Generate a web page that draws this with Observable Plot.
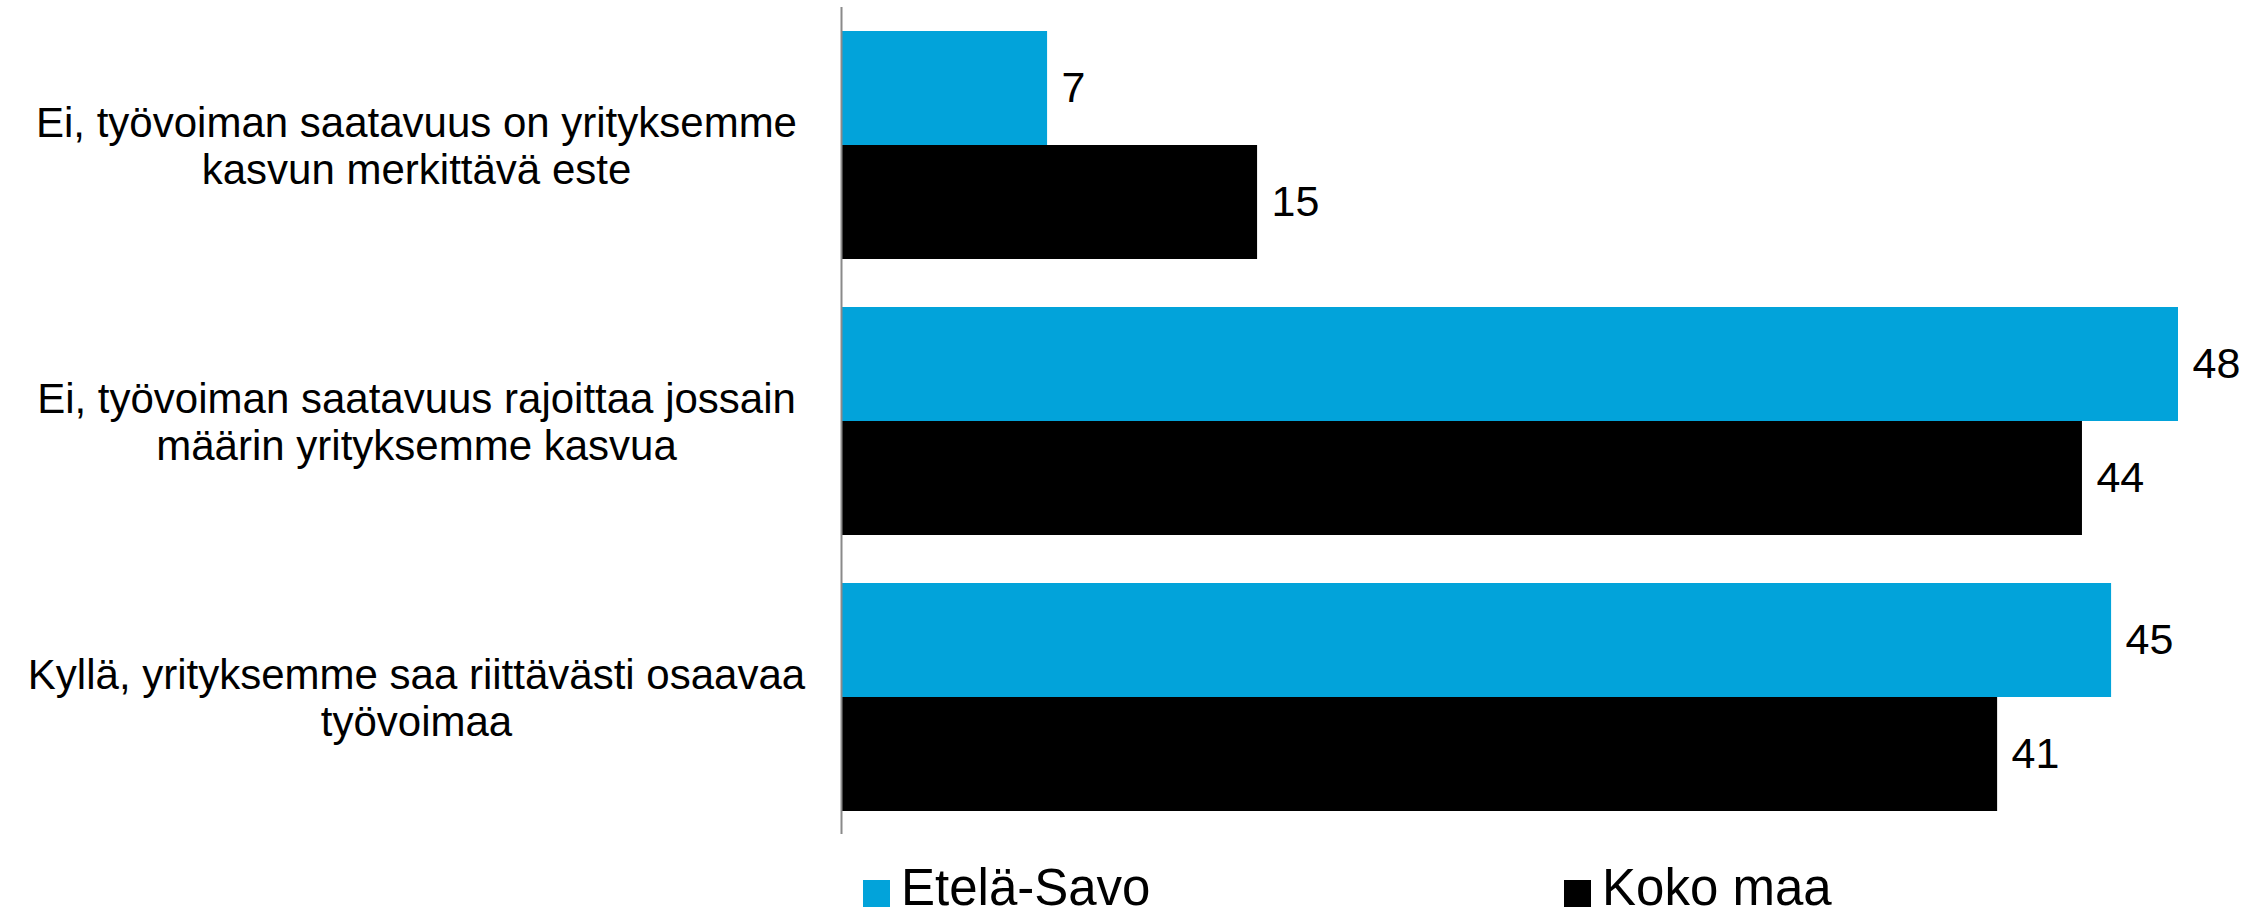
<!DOCTYPE html>
<html>
<head>
<meta charset="utf-8">
<script src="https://cdn.jsdelivr.net/npm/d3@7"></script>
<script src="https://cdn.jsdelivr.net/npm/@observablehq/plot@0.6"></script>
<style>
  html, body { margin: 0; padding: 0; background: #ffffff; }
  #wrap { position: relative; width: 2267px; height: 918px; overflow: hidden; background: #ffffff;
          font-family: "Liberation Sans", Arial, sans-serif; }
  .sw { position: absolute; width: 27px; height: 27px; top: 880px; }
  .lt { position: absolute; top: 866px; font-size: 51px; line-height: 0.85; color: #000; white-space: nowrap; }
</style>
</head>
<body>
<div id="wrap"></div>
<script>
// ---- data ----
const categories = [
  "Ei, työvoiman saatavuus on yrityksemme\nkasvun merkittävä este",
  "Ei, työvoiman saatavuus rajoittaa jossain\nmäärin yrityksemme kasvua",
  "Kyllä, yrityksemme saa riittävästi osaavaa\ntyövoimaa"
];
const series = ["Etelä-Savo", "Koko maa"];
const seriesColors = ["#02A3DA", "#000000"];
const etelaSavo = [7.36, 47.75, 45.36];
const kokoMaa = [14.86, 44.32, 41.29];

const data = categories.flatMap((c, i) => [
  {category: c, series: series[0], value: etelaSavo[i]},
  {category: c, series: series[1], value: kokoMaa[i]}
]);
const fmt = d3.format(".0f");

const W = 2267, H = 855;
const half = 114;

const chart = Plot.plot({
  width: W,
  height: H,
  marginLeft: 841,
  marginRight: 26,
  marginTop: 7,
  marginBottom: H - 834,
  style: {fontFamily: '"Liberation Sans", Arial, sans-serif', background: "white", color: "black", overflow: "visible"},
  x: {domain: [0, 50], axis: null},
  y: {domain: categories, paddingInner: 48 / 276, paddingOuter: 0, insetTop: 23, insetBottom: 23, label: null},
  color: {domain: series, range: seriesColors},
  marks: [
    Plot.barX(data.filter(d => d.series === series[0]), {x: "value", y: "category", fill: "series", insetBottom: half}),
    Plot.barX(data.filter(d => d.series === series[1]), {x: "value", y: "category", fill: "series", insetTop: half}),
    Plot.ruleX([0], {stroke: "#8a8a8a", strokeWidth: 2}),
    Plot.text(data.filter(d => d.series === series[0]), {x: "value", y: "category", text: d => fmt(d.value), dx: 14, dy: -half / 2, textAnchor: "start", fontSize: 43, fill: "black"}),
    Plot.text(data.filter(d => d.series === series[1]), {x: "value", y: "category", text: d => fmt(d.value), dx: 14, dy: half / 2, textAnchor: "start", fontSize: 43, fill: "black"}),
    Plot.axisY({tickSize: 0, tickPadding: 0, textAnchor: "middle", dx: 416 - 841, fontSize: 42, lineHeight: 1.12, label: null, fill: "black"})
  ]
});

const wrap = document.getElementById("wrap");
wrap.appendChild(chart);

// legend below the chart
const legendSwatchX = [863, 1564];
const legendTextX = [901, 1602];
series.forEach((s, i) => {
  const sw = document.createElement("div");
  sw.className = "sw";
  sw.style.left = legendSwatchX[i] + "px";
  sw.style.background = seriesColors[i];
  wrap.appendChild(sw);
  const t = document.createElement("div");
  t.className = "lt";
  t.style.left = legendTextX[i] + "px";
  t.textContent = s;
  wrap.appendChild(t);
});
</script>
</body>
</html>
